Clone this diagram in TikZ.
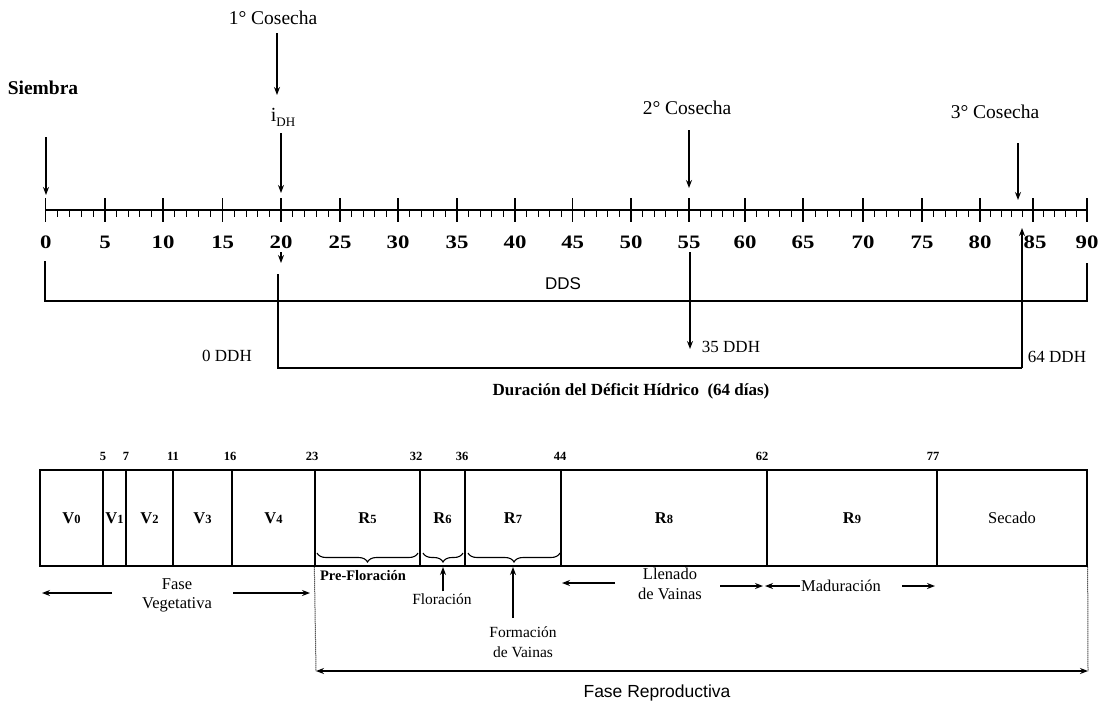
\documentclass[tikz,border=0pt]{standalone}
\usepackage{fontspec}
\setmainfont{Liberation Serif}
\setsansfont{Liberation Sans}
\usetikzlibrary{arrows.meta,decorations.pathreplacing}
\begin{document}
\begin{tikzpicture}[x=1pt,y=-1pt,
  ln/.style={line width=1.3pt},
  arr/.style={ln,-{Stealth[length=8pt,width=6pt]}},
  dbl/.style={ln,{Stealth[length=8pt,width=6pt]}-{Stealth[length=8pt,width=6pt]}},
  txt/.style={inner sep=0pt,font=\fontsize{17}{20}\selectfont},
  big/.style={inner sep=0pt,font=\fontsize{19.5}{22}\selectfont},
  tlab/.style={inner sep=0pt,font=\fontsize{19}{20}\selectfont\bfseries},
  num/.style={inner sep=0pt,font=\fontsize{12.5}{14}\selectfont\bfseries},
  cell/.style={draw,ln,minimum height=96pt,inner sep=0pt,font=\fontsize{16.5}{18}\selectfont\bfseries},
  brc/.style={line width=1.1pt,decorate,decoration={brace,amplitude=9pt,mirror}},
  dotl/.style={line width=1pt,densely dotted}]
\useasboundingbox (0,0) rectangle (1106,705);

% ---------- axis ----------
\draw[ln] (45.7,210) -- (1087,210);
\foreach \p/\q in {45.7/105,105/163,163/222.7,222.7/281,281/340,340/398,398/457,457/515,515/572.7,572.7/631,631/689,689/745,745/803,803/863,863/922,922/980,980/1033,1033/1087}{
  \draw[ln] (\p,198) -- (\p,222);
  \foreach \k in {1,...,4}{
    \pgfmathsetmacro\xx{\p+\k*(\q-\p)/5}
    \draw[line width=1pt] (\xx,210) -- (\xx,217);
  }
}
\draw[ln] (1087,198) -- (1087,222);
\foreach \v/\p in {0/45.7,5/105,10/163,15/222.7,20/281,25/340,30/398,35/457,40/515,45/572.7,50/631,55/689,60/745,65/803,70/863,75/922,80/980,85/1035,90/1087}{
  \node[tlab] (t\v) at (\p,242) {\scalebox{1.2}[1]{\v}};
}

% ---------- top labels and arrows ----------
\node[big,font=\fontsize{19.5}{22}\selectfont\bfseries] (siembra) at (43,88) {Siembra};
\coordinate (sa) at (46,137); \coordinate (sb) at (46,195);
\draw[arr] (sa) -- (sb);

\node[big] (cos1) at (273,18) {1° Cosecha};
\coordinate (c1b) at (277,95);
\draw[arr] (277,33) -- (c1b);
\node[inner sep=0pt] (idh) at (283,117) {\fontsize{20}{22}\selectfont i\raisebox{-5pt}{\fontsize{13}{14}\selectfont DH}};
\coordinate (ia) at (281,133); \coordinate (ib) at (281,193);
\draw[arr] (ia) -- (ib);

\node[big] (cos2) at (687,108) {2° Cosecha};
\coordinate (c2a) at (689,130); \coordinate (c2b) at (689,188);
\draw[arr] (c2a) -- (c2b);

\node[big] (cos3) at (995,112) {3° Cosecha};
\coordinate (c3a) at (1018,143); \coordinate (c3b) at (1018,200);
\draw[arr] (c3a) -- (c3b);

% ---------- DDS bracket ----------
\coordinate (d0) at (45,261); \coordinate (d0b) at (45,301);
\coordinate (d90) at (1087,263); \coordinate (d90b) at (1087,301);
\draw[ln] (d0) -- (d0b) -- (d90b) -- (d90);
\node[inner sep=0pt,font=\fontsize{17}{20}\selectfont\sffamily] (dds) at (563,284) {DDS};

% ---------- DDH bracket ----------
\coordinate (s20a) at (281,252); \coordinate (s20b) at (281,263);
\draw[arr] (s20a) -- (s20b);
\coordinate (h0) at (278,274); \coordinate (h0b) at (278,368);
\coordinate (h64) at (1022,228); \coordinate (h64b) at (1022,368);
\draw[ln] (h0) -- (h0b) -- (h64b);
\draw[arr] (h64b) -- (h64);
\coordinate (h35a) at (690,252); \coordinate (h35b) at (690,349);
\draw[arr] (h35a) -- (h35b);
\node[txt] (ddh0) at (227,356) {0 DDH};
\node[txt] (ddh35) at (731,347) {35 DDH};
\node[txt] (ddh64) at (1057,357) {64 DDH};

\node[inner sep=0pt,font=\fontsize{17}{20}\selectfont\bfseries] (title) at (631,391) {Duración del Déficit Hídrico \ (64 días)};

% ---------- phase box ----------
\newcommand{\stg}[2]{#1{\fontsize{12.5}{14}\selectfont #2}}
\node[cell,minimum width=63pt]  (v0) at (71.5,518) {\stg{V}{0}};
\node[cell,minimum width=23pt]  (v1) at (114.5,518) {\stg{V}{1}};
\node[cell,minimum width=47pt]  (v2) at (149.5,518) {\stg{V}{2}};
\node[cell,minimum width=59pt]  (v3) at (202.5,518) {\stg{V}{3}};
\node[cell,minimum width=83pt]  (v4) at (273.5,518) {\stg{V}{4}};
\node[cell,minimum width=105pt] (r5) at (367.5,518) {\stg{R}{5}};
\node[cell,minimum width=45pt]  (r6) at (442.5,518) {\stg{R}{6}};
\node[cell,minimum width=96pt]  (r7) at (513,518) {\stg{R}{7}};
\node[cell,minimum width=206pt] (r8) at (664,518) {\stg{R}{8}};
\node[cell,minimum width=170pt] (r9) at (852,518) {\stg{R}{9}};
\node[cell,minimum width=150pt,font=\fontsize{16.5}{18}\selectfont] (sec) at (1012,518) {Secado};

\foreach \v/\p in {5/103,7/126,11/173,16/230,23/312,32/416,36/462,44/560,62/762,77/933}{
  \node[num] (n\v) at (\p,456) {\v};
}

% ---------- braces ----------
\draw[brc] (317,553) -- (418,553);
\draw[brc] (423,553) -- (463,553);
\draw[brc] (468,553) -- (560,553);
\coordinate (bf) at (443,567);
\coordinate (bv) at (513,567);

\node[inner sep=0pt,font=\fontsize{14.5}{16}\selectfont\bfseries] (pre) at (363,576) {Pre-Floración};
\node[inner sep=0pt,font=\fontsize{15.5}{18}\selectfont] (flor) at (442,599) {Floración};
\draw[arr] (flor.north -| bf) ++(0,-2) -- (bf);
\node[inner sep=0pt,font=\fontsize{15.5}{20}\selectfont,align=center] (form) at (523,642) {Formación\\de Vainas};
\draw[arr] (513,618) -- (bv);

% ---------- phase arrows ----------
\node[inner sep=0pt,font=\fontsize{16.5}{19}\selectfont,align=center] (fv) at (177,595) {Fase\\Vegetativa};
\coordinate (fvl) at (42,593); \coordinate (fvr) at (310,593);
\draw[arr] (112,593) -- (fvl);
\draw[arr] (233,593) -- (fvr);

\node[inner sep=0pt,font=\fontsize{16.5}{20}\selectfont,align=center] (lv) at (670,584) {Llenado\\de Vainas};
\coordinate (lvl) at (562,583); \coordinate (lvr) at (763,586);
\draw[arr] (615,583) -- (lvl);
\draw[arr] (720,586) -- (lvr);

\node[inner sep=0pt,font=\fontsize{16.5}{19}\selectfont] (mad) at (841,586) {Maduración};
\coordinate (mdl) at (765,586); \coordinate (mdr) at (935,586);
\draw[arr] (800,586) -- (mdl);
\draw[arr] (902,586) -- (mdr);

% ---------- Fase Reproductiva ----------
\coordinate (frl) at (316,671); \coordinate (frr) at (1088,671);
\draw[dotl] (r5.south west) -- (frl);
\draw[dotl] (sec.south east) -- (frr);
\draw[dbl] (frl) -- (frr);
\node[inner sep=0pt,font=\fontsize{17.5}{20}\selectfont\sffamily] (fr) at (657,693) {Fase Reproductiva};
\end{tikzpicture}
\end{document}
